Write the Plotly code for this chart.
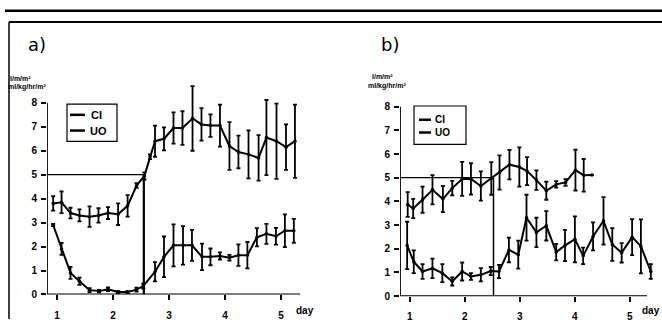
import plotly.graph_objects as go

W, H = 662, 325

# ---------------- data ----------------
# Panel a
a_ci_day = [0.93, 1.08, 1.24, 1.40, 1.58, 1.74, 1.91, 2.09, 2.26, 2.42, 2.56, 2.66, 2.75, 2.91,
            3.08, 3.24, 3.42, 3.58, 3.74, 3.91, 4.08, 4.24, 4.42, 4.60, 4.74, 4.92, 5.09, 5.25]
a_ci_val = [3.8, 3.85, 3.4, 3.3, 3.25, 3.3, 3.4, 3.35, 3.7, 4.55, 4.95, 5.75, 6.4, 6.5,
            6.95, 6.95, 7.35, 7.1, 7.05, 7.05, 6.2, 5.95, 5.85, 5.7, 6.55, 6.4, 6.15, 6.4]
a_ci_err = [0.3, 0.45, 0.22, 0.25, 0.43, 0.3, 0.25, 0.45, 0.45, 0.1, 0.15, 0.1, 0.65, 0.48,
            0.65, 0.7, 1.35, 0.68, 0.47, 0.88, 1.0, 0.68, 1.0, 0.95, 1.57, 1.57, 0.95, 1.53]

a_uo_day = [0.93, 1.08, 1.24, 1.40, 1.58, 1.75, 1.91, 2.09, 2.26, 2.42, 2.54, 2.75, 2.91, 3.08,
            3.25, 3.41, 3.59, 3.74, 3.91, 4.08, 4.24, 4.40, 4.57, 4.74, 4.91, 5.07, 5.23]
a_uo_val = [2.9, 1.9, 0.9, 0.55, 0.18, 0.14, 0.22, 0.1, 0.1, 0.2, 0.35, 0.95, 1.57, 2.05,
            2.05, 2.05, 1.57, 1.57, 1.61, 1.53, 1.64, 1.64, 2.39, 2.53, 2.43, 2.66, 2.66]
a_uo_err = [0.05, 0.25, 0.25, 0.15, 0.08, 0.05, 0.08, 0.04, 0.04, 0.08, 0.1, 0.4, 0.85, 0.88,
            0.8, 0.65, 0.55, 0.35, 0.15, 0.12, 0.45, 0.55, 0.38, 0.42, 0.35, 0.68, 0.5]

# Panel b
b_ci_day = [0.96, 1.06, 1.23, 1.41, 1.60, 1.77, 1.95, 2.11, 2.29, 2.48, 2.63, 2.81, 2.99, 3.13,
            3.30, 3.48, 3.66, 3.83, 4.01, 4.16, 4.31]
b_ci_val = [3.87, 3.7, 4.07, 4.49, 4.1, 4.56, 4.95, 4.95, 4.65, 4.97, 5.22, 5.55, 5.45, 5.28,
            4.9, 4.45, 4.72, 4.8, 5.32, 5.1, 5.11]
b_ci_err = [0.52, 0.41, 0.55, 0.62, 0.55, 0.31, 0.72, 0.66, 0.62, 0.69, 0.72, 0.62, 0.83, 0.59,
            0.41, 0.38, 0.14, 0.14, 0.86, 0.69, 0.0]

b_uo_day = [0.95, 1.07, 1.23, 1.41, 1.59, 1.77, 1.95, 2.11, 2.29, 2.47, 2.62, 2.80, 2.97, 3.12,
            3.30, 3.48, 3.66, 3.82, 4.00, 4.15, 4.33, 4.52, 4.68, 4.85, 5.04, 5.20, 5.38]
b_uo_val = [2.14, 1.45, 1.04, 1.17, 0.97, 0.62, 1.04, 0.83, 0.90, 1.06, 1.04, 1.95, 1.75, 3.31,
            2.69, 2.97, 1.86, 2.14, 2.40, 1.70, 2.52, 3.18, 2.18, 1.83, 2.49, 2.1, 1.04]
b_uo_err = [1.0, 0.48, 0.31, 0.41, 0.38, 0.17, 0.38, 0.14, 0.28, 0.17, 0.28, 0.52, 0.59, 0.97,
            0.62, 0.62, 0.35, 0.66, 0.97, 0.35, 0.59, 1.0, 0.69, 0.41, 0.76, 1.14, 0.31]

day_ticks = [1, 2, 3, 4, 5]
day_labels = ["1", "2", "3", "4", "5"]
y_ticks = [0, 1, 2, 3, 4, 5, 6, 7, 8]
threshold = 5
cut_a = 2.55
cut_b = 2.52
series_names = ["CI", "UO"]
y_label_1 = "l/m/m²"
y_label_2 = "ml/kg/hr/m²"

FONT = "Liberation Sans"


def px(x):
    return x / W


def py(y):
    return 1 - y / H


fig = go.Figure()


def add_series(days, vals, errs, xa, ya, name):
    fig.add_trace(go.Scatter(
        x=days, y=vals, mode="lines+markers", name=name, showlegend=False,
        line=dict(color="black", width=2),
        marker=dict(color="black", size=3.5),
        error_y=dict(type="data", array=errs, visible=True, color="black",
                     thickness=1.8, width=2),
        xaxis=xa, yaxis=ya, cliponaxis=False,
    ))


add_series(a_ci_day, a_ci_val, a_ci_err, "x", "y", "CI")
add_series(a_uo_day, a_uo_val, a_uo_err, "x", "y", "UO")
add_series(b_ci_day, b_ci_val, b_ci_err, "x2", "y2", "CI")
add_series(b_uo_day, b_uo_val, b_uo_err, "x2", "y2", "UO")

# axes
a_xr = [0.82, 5.34]
b_xr = [0.82, 5.42]
yr = [0, 8.8]

axis_common = dict(showgrid=False, zeroline=False, showline=False, ticks="outside",
                   ticklen=5, tickwidth=1.5, tickcolor="black",
                   tickfont=dict(family=FONT, size=10, color="black", weight="bold"))

fig.update_layout(
    width=W, height=H, margin=dict(l=0, r=0, t=0, b=0),
    paper_bgcolor="white", plot_bgcolor="white", showlegend=False,
    xaxis=dict(domain=[px(47), px(300)], range=a_xr, tickvals=day_ticks, ticktext=day_labels,
               anchor="y", ticklabelstandoff=7, **axis_common),
    yaxis=dict(domain=[py(300), py(300 - 8.8 * 24.4)], range=yr, tickvals=y_ticks,
               anchor="x", ticklabelstandoff=2, **axis_common),
    xaxis2=dict(domain=[px(400), px(653)], range=b_xr, tickvals=day_ticks, ticktext=day_labels,
                anchor="y2", ticklabelstandoff=6, **axis_common),
    yaxis2=dict(domain=[py(301.7), py(301.7 - 8.8 * 24.13)], range=yr, tickvals=y_ticks,
                anchor="x2", ticklabelstandoff=2, **axis_common),
)

shapes = []
# axis lines
for yref, xref, xend in [("y", "x", 5.34), ("y2", "x2", 5.31)]:
    shapes.append(dict(type="line", xref=xref, yref=yref, x0=0.82, x1=0.82, y0=0, y1=8,
                       line=dict(color="black", width=1.8)))
    shapes.append(dict(type="line", xref=xref, yref=yref, x0=0.82, x1=xend, y0=0, y1=0,
                       line=dict(color="black", width=1.8)))
# threshold lines
for xref, yref, cut, vw in [("x", "y", cut_a, 2.2), ("x2", "y2", cut_b, 1.5)]:
    shapes.append(dict(type="line", xref=xref, yref=yref, x0=0.82, x1=cut, y0=threshold,
                       y1=threshold, line=dict(color="black", width=1.3)))
    shapes.append(dict(type="line", xref=xref, yref=yref, x0=cut, x1=cut, y0=0,
                       y1=threshold, line=dict(color="black", width=vw)))
# frame rules
shapes.append(dict(type="line", xref="paper", yref="paper", x0=px(5), x1=1, y0=py(11), y1=py(11),
                   line=dict(color="black", width=2.5)))
shapes.append(dict(type="line", xref="paper", yref="paper", x0=px(9), x1=1, y0=py(22.5),
                   y1=py(22.5), line=dict(color="black", width=2)))
shapes.append(dict(type="line", xref="paper", yref="paper", x0=px(9), x1=px(9), y0=py(22.5),
                   y1=0, line=dict(color="black", width=1.5)))
# legend boxes
for (x0, x1, y0, y1, lx0, lx1, ly1, ly2) in [(67, 117, 106, 144, 70, 85, 117, 133),
                                            (414, 466, 108, 147, 419, 431, 122, 135)]:
    shapes.append(dict(type="rect", xref="paper", yref="paper", x0=px(x0), x1=px(x1),
                       y0=py(y0), y1=py(y1), line=dict(color="black", width=1.2)))
    for ly in (ly1, ly2):
        shapes.append(dict(type="line", xref="paper", yref="paper", x0=px(lx0), x1=px(lx1),
                           y0=py(ly), y1=py(ly), line=dict(color="black", width=2.5)))
fig.update_layout(shapes=shapes)

ann = []


def text(x, y, s, size, xanchor="left", bold=True, family=FONT):
    ann.append(dict(x=px(x), y=py(y), xref="paper", yref="paper", text=s, showarrow=False,
                    xanchor=xanchor, yanchor="middle",
                    font=dict(family=family, size=size, color="black",
                              weight="bold" if bold else "normal")))


text(26, 45, "a)", 18, bold=False, family="DejaVu Sans")
text(379, 45, "b)", 18, bold=False, family="DejaVu Sans")
text(8, 80, y_label_1, 7)
text(6, 89, y_label_2, 7)
text(370, 78, y_label_1, 7)
text(366, 88, y_label_2, 7)
text(89, 117, series_names[0], 11)
text(88, 133, series_names[1], 11)
text(433, 122, series_names[0], 10)
text(433, 135, series_names[1], 10)
text(294, 316, "day", 10)
text(640, 316, "day", 10)
fig.update_layout(annotations=ann)

fig.write_html("out.html")
